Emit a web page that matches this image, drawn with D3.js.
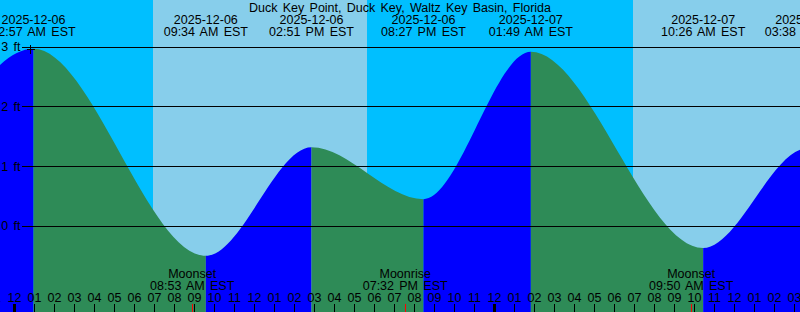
<!DOCTYPE html>
<html>
<head>
<meta charset="utf-8">
<script src="https://cdn.jsdelivr.net/npm/d3@7"></script>
<style>
  html, body { margin: 0; padding: 0; background: #fff; overflow: hidden; }
  svg { display: block; }
</style>
</head>
<body>
<div id="chart"></div>
<script>
// ---------------------------------------------------------------------------
// Tide graph — day/night sky bands, rising/falling water, hour ticks
// ---------------------------------------------------------------------------

const title = 'Duck Key Point, Duck Key, Waltz Key Basin, Florida';

// high / low tide extremes (local EST)
const tideTimes = [
  '2025-12-05T19:00', '2025-12-06T00:57', '2025-12-06T09:34', '2025-12-06T14:51',
  '2025-12-06T20:27', '2025-12-07T01:49', '2025-12-07T10:26', '2025-12-07T15:38',
  '2025-12-07T21:10',
];
const tideHeights = [0.45, 2.97, -0.5, 1.32, 0.45, 2.92, -0.37, 1.3, 0.5];

const sunriseTimes = ['2025-12-06T06:56', '2025-12-07T06:56'];
const sunsetTimes = ['2025-12-06T17:38', '2025-12-07T17:38'];

const moonTimes = ['2025-12-06T08:53', '2025-12-06T19:32', '2025-12-07T09:50'];
const moonEvents = ['Moonset', 'Moonrise', 'Moonset'];

const depthTicks = [0, 1, 2, 3];

const markerTime = '2025-12-06T00:47';
const markerHeight = 2.96;

const W = 800, H = 312;
const parse = d3.timeParse('%Y-%m-%dT%H:%M');
const fmtDate = d3.timeFormat('%Y-%m-%d');
const fmtTime = d3.timeFormat('%I:%M %p EST');
const fmtHour = d3.timeFormat('%I');

const x = d3.scaleTime()
  .domain([parse('2025-12-06T00:00'), parse('2025-12-08T00:00')])
  .range([14.5, 974.5]);
const y = d3.scaleLinear().domain([0, 3]).range([226, 47]);
const px = (v) => Math.floor(v) + 0.5;

const tide = tideTimes.map((t, i) => ({ t: parse(t), h: tideHeights[i] }));

const svg = d3.select('#chart').append('svg')
  .attr('width', W).attr('height', H)
  .style('font-family', '"Liberation Sans", Arial, sans-serif')
  .style('font-size', '12.5px')
  .style('word-spacing', '1.8px');

// sky: night everywhere, day bands on top
svg.append('rect').attr('width', W).attr('height', H).attr('fill', '#00bfff');
svg.selectAll('rect.day')
  .data(sunriseTimes.map((s, i) => [parse(s), parse(sunsetTimes[i])]))
  .join('rect')
  .attr('class', 'day')
  .attr('x', (d) => Math.round(x(d[0])))
  .attr('width', (d) => Math.round(x(d[1])) - Math.round(x(d[0])))
  .attr('y', 0).attr('height', H)
  .attr('fill', '#87ceeb');

// water: area shape used as clip, coloured by rising / falling
const area = d3.area()
  .x((d) => x(d.t))
  .y0(H)
  .y1((d) => y(d.h))
  .curve(d3.curveMonotoneX);

svg.append('defs').append('clipPath').attr('id', 'water')
  .append('path').attr('d', area(tide));

const segs = d3.pairs(tide);
svg.append('g').attr('clip-path', 'url(#water)')
  .selectAll('rect')
  .data(segs)
  .join('rect')
  .attr('x', (d) => x(d[0].t))
  .attr('width', (d) => x(d[1].t) - x(d[0].t))
  .attr('y', 0).attr('height', H)
  .attr('fill', (d) => (d[1].h > d[0].h ? '#0000ff' : '#2e8b57'));

// depth lines + labels
svg.selectAll('line.depth')
  .data(depthTicks)
  .join('line')
  .attr('class', 'depth')
  .attr('x1', 22).attr('x2', W)
  .attr('y1', (d) => px(y(d))).attr('y2', (d) => px(y(d)))
  .attr('stroke', '#000').attr('shape-rendering', 'crispEdges');

svg.selectAll('text.depth')
  .data(depthTicks)
  .join('text')
  .attr('class', 'depth')
  .attr('x', 20.5).attr('y', (d) => y(d))
  .attr('dy', '0.35em')
  .attr('text-anchor', 'end')
  .text((d) => `${d} ft`);

// marker
const mx = px(x(parse(markerTime))), my = px(y(markerHeight));
svg.append('path')
  .attr('d', `M${mx - 4},${my}H${mx + 4}M${mx},${my - 4.5}V${my + 4.5}`)
  .attr('stroke', '#000').attr('shape-rendering', 'crispEdges');

// title + tide event labels (only those reaching into the picture)
svg.append('text')
  .attr('x', W / 2).attr('y', 12)
  .attr('text-anchor', 'middle')
  .text(title);

const ev = svg.selectAll('g.event')
  .data(tide.filter((d) => x(d.t) > -40 && x(d.t) < W + 40))
  .join('g')
  .attr('class', 'event')
  .attr('transform', (d) => `translate(${x(d.t)},0)`)
  .attr('text-anchor', 'middle');
ev.append('text').attr('y', 24).text((d) => fmtDate(d.t));
ev.append('text').attr('y', 35.5).text((d) => fmtTime(d.t));

// hour ticks
const hours = d3.timeHour.range(parse('2025-12-05T23:00'), parse('2025-12-07T17:00'))
  .filter((d) => x(d) > -10 && x(d) < W + 10);

svg.selectAll('line.hour')
  .data(hours)
  .join('line')
  .attr('class', 'hour')
  .attr('x1', (d) => px(x(d))).attr('x2', (d) => px(x(d)))
  .attr('y1', 304).attr('y2', H)
  .attr('stroke', '#000')
  .attr('stroke-width', (d) => (d.getHours() === 0 ? 3 : 1))
  .attr('shape-rendering', 'crispEdges');

svg.selectAll('text.hour')
  .data(hours)
  .join('text')
  .attr('class', 'hour')
  .attr('x', (d) => x(d)).attr('y', 301.5)
  .attr('text-anchor', 'middle')
  .text((d) => fmtHour(d));

// moon events
const moon = moonTimes.map((t, i) => ({ t: parse(t), name: moonEvents[i] }));

svg.selectAll('line.moon')
  .data(moon)
  .join('line')
  .attr('class', 'moon')
  .attr('x1', (d) => px(x(d.t))).attr('x2', (d) => px(x(d.t)))
  .attr('y1', 304).attr('y2', H)
  .attr('stroke', '#ff0000')
  .attr('shape-rendering', 'crispEdges');

const mg = svg.selectAll('g.moon')
  .data(moon)
  .join('g')
  .attr('class', 'moon')
  .attr('transform', (d) => `translate(${x(d.t)},0)`)
  .attr('text-anchor', 'middle');
mg.append('text').attr('y', 278).text((d) => d.name);
mg.append('text').attr('y', 289.5).text((d) => fmtTime(d.t));
</script>
</body>
</html>
